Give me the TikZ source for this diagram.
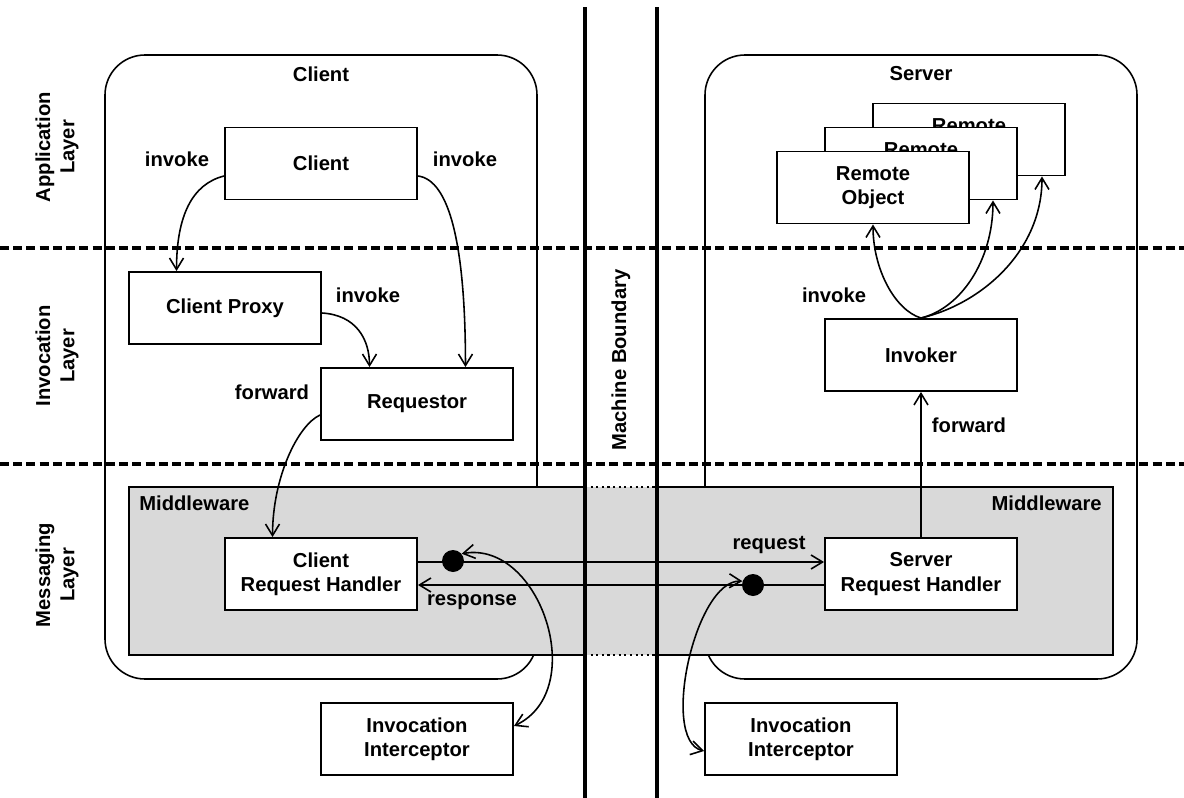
\documentclass[tikz,border=0pt]{standalone}
\usepackage{fontspec}
\setmainfont{Liberation Sans}
\usetikzlibrary{arrows.meta,calc}
\definecolor{mwgray}{RGB}{217,217,217}
\tikzset{barbtip/.tip={Straight Barb[length=2.3mm,width=2.8mm]}}
\begin{document}
\begin{tikzpicture}[x=0.02cm,y=-0.02cm,
  font=\fontsize{11.5}{13.9}\selectfont\bfseries,
  comp/.style={draw,line width=1.1pt,fill=white,minimum width=3.84cm,
    minimum height=1.44cm,align=center,inner sep=0pt},
  container/.style={draw,line width=0.9pt,rounded corners=0.8cm},
  layerline/.style={line width=1.9pt,dash pattern=on 0.18cm off 0.085cm},
  boundary/.style={line width=2pt},
  conn/.style={line width=0.9pt,-{barbtip}},
  biconn/.style={line width=0.9pt,{barbtip}-{barbtip}},
  lbl/.style={inner sep=0pt},
  joint/.style={circle,fill=black,minimum size=0.44cm,inner sep=0pt}]
\useasboundingbox (0,0) rectangle (1184,798);

% layer separators
\draw[layerline] (0,248) -- (1184,248);
\draw[layerline] (0,464) -- (1184,464);

% client and server containers
\draw[container] (105,55) rectangle (537,679);
\draw[container] (705,55) rectangle (1137,679);
\node[lbl] (clienttitle) at (321,74) {Client};
\node[lbl] (servertitle) at (921,74) {Server};

% middleware band
\fill[mwgray] (129,487) rectangle (1113,655);
\draw[line width=1.1pt] (585,487) -- (129,487) -- (129,655) -- (585,655);
\draw[line width=1.1pt] (657,487) -- (1113,487) -- (1113,655) -- (657,655);
\draw[line width=1.1pt,dash pattern=on 1.2pt off 2pt] (585,487) -- (657,487);
\draw[line width=1.1pt,dash pattern=on 1.2pt off 2pt] (585,655) -- (657,655);
\node[lbl,anchor=west] (mwleft) at (139,503) {Middleware};
\node[lbl,anchor=east] (mwright) at (1102,503) {Middleware};

% machine boundary
\draw[boundary] (585,7) -- (585,798);
\draw[boundary] (657,7) -- (657,798);
\node[lbl,rotate=90] (mb) at (621,360) {Machine Boundary};

% layer names
\node[lbl,rotate=90,align=center] (applayer) at (57,147) {Application\\Layer};
\node[lbl,rotate=90,align=center] (invlayer) at (57,356) {Invocation\\Layer};
\node[lbl,rotate=90,align=center] (msglayer) at (57,575) {Messaging\\Layer};

% components
\node[comp] (client) at (321,163.5) {Client};
\node[comp] (proxy) at (225,308) {Client Proxy};
\node[comp] (requestor) at (417,404) {Requestor};
\node[comp] (crh) at (321,574) {Client\\Request Handler};
\node[comp] (iiL) at (417,739) {Invocation\\Interceptor};
\node[comp] (srh) at (921,574) {Server\\Request Handler};
\node[comp] (iiR) at (801,739) {Invocation\\Interceptor};
\node[comp] (invoker) at (921,355) {Invoker};
\node[comp] (ro3) at (969,139.5) {Remote\\Object};
\node[comp] (ro2) at (921,163.5) {Remote\\Object};
\node[comp] (ro1) at (873,187.5) {Remote\\Object};

% client side calls
\draw[conn] ($(client.west)+(0,12.5)$) .. controls +(-32,8) and +(0,-55) ..
  ($(proxy.north west)!0.25!(proxy.north east)$);
\draw[conn] ($(client.east)+(0,12.5)$) .. controls +(32,4) and +(0,-120) ..
  ($(requestor.north west)!0.75!(requestor.north east)$);
\draw[conn] ($(proxy.east)+(0,5)$) .. controls +(34,2) and +(0,-28) ..
  ($(requestor.north west)!0.255!(requestor.north east)$);
\draw[conn] ($(requestor.west)+(0,11)$) .. controls +(-22,10) and +(0,-60) ..
  ($(crh.north west)!0.25!(crh.north east)$);
\node[lbl] (lblinv1) at (177,159) {invoke};
\node[lbl] (lblinv2) at (465,159) {invoke};
\node[lbl] (lblinv3) at (368,295) {invoke};
\node[lbl] (lblfwd1) at (272,392) {forward};

% request / response messages
\draw[conn] ($(crh.east)+(0,-12)$) -- ($(srh.west)+(0,-12)$);
\draw[conn] ($(srh.west)+(0,11)$) -- ($(crh.east)+(0,11)$);
\node[joint] (dotL) at (453,561) {};
\node[joint] (dotR) at (753,585) {};
\node[lbl] (lblreq) at (769,545) {request};
\node[lbl] (lblresp) at (472,602) {response};

% interceptor hooks
\draw[biconn] (dotL.40) .. controls (540,540) and (590,690) ..
  ($(iiL.east)+(0,-13)$);
\draw[biconn] (dotR.160) .. controls (695,580) and (660,740) ..
  ($(iiR.west)+(0,12)$);

% server side
\draw[conn] (srh.north) -- (invoker.south);
\node[lbl] (lblfwd2) at (969,425) {forward};
\draw[conn] (invoker.north) .. controls +(-26,-8) and +(0,45) .. (ro1.south);
\draw[conn] (invoker.north) .. controls +(40,-10) and +(0,60) ..
  ($(ro2.south)+(72,0)$);
\draw[conn] (invoker.north) .. controls +(60,-14) and +(0,75) ..
  ($(ro3.south)+(73,0)$);
\node[lbl] (lblinv4) at (834,295) {invoke};
\end{tikzpicture}
\end{document}
